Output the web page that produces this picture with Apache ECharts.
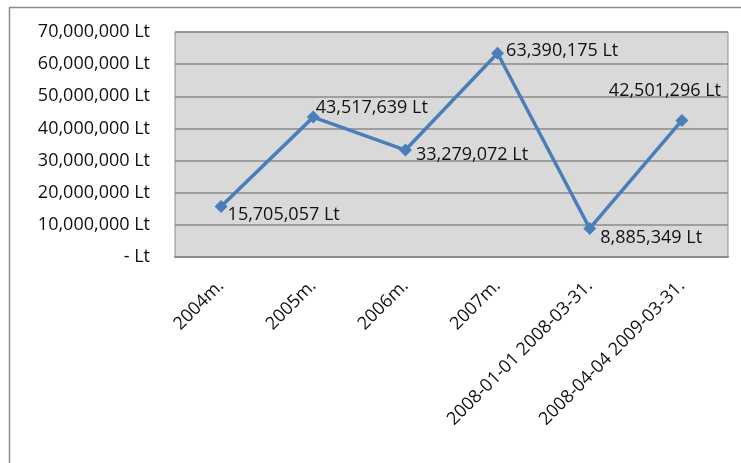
<!DOCTYPE html>
<html>
<head>
<meta charset="utf-8">
<script src="https://cdn.jsdelivr.net/npm/echarts@6/dist/echarts.min.js"></script>
<style>
  html, body { margin: 0; padding: 0; background: #fff; }
  #chart { width: 741px; height: 463px; }
</style>
</head>
<body>
<div id="chart"></div>
<script>
var periods = ["2004m.", "2005m.", "2006m.", "2007m.", "2008-01-01 2008-03-31.", "2008-04-04 2009-03-31."];
var amounts = [15705057, 43517639, 33279072, 63390175, 8885349, 42501296];
// where each value label sits relative to its point
var labelPlaces = ["right", "right", "right", "right", "right", "top"];
var labelShifts = [[-2, 8], [-6, -9], [2, 5], [0, -2], [2, 9], [-17, -12]];

var FONT = "Open Sans";
var FONT_SIZE = 18;

function fmtLt(v) {
  if (v === 0) return "- Lt";
  return v.toLocaleString("en-US") + " Lt";
}

var pointData = amounts.map(function (v, i) {
  return {
    value: v,
    label: {
      position: labelPlaces[i],
      offset: labelShifts[i]
    }
  };
});

var myChart = echarts.init(document.getElementById("chart"));
myChart.setOption({
  animation: false,
  graphic: [
    {
      type: "rect",
      shape: { x: 9.5, y: 7.5, width: 740, height: 470 },
      style: { fill: "none", stroke: "#8c8c8c", lineWidth: 1.5 },
      z: -10
    }
  ],
  grid: {
    left: 175,
    right: 13,
    top: 32,
    bottom: 206,
    show: true,
    backgroundColor: "#d9d9d9",
    borderColor: "#8c8c8c",
    borderWidth: 1
  },
  xAxis: {
    type: "category",
    data: periods,
    boundaryGap: true,
    axisLine: { show: true, lineStyle: { color: "#8c8c8c", width: 2 } },
    axisTick: { show: false },
    axisLabel: {
      rotate: 45,
      interval: 0,
      margin: 26,
      color: "#111",
      fontFamily: FONT,
      fontSize: FONT_SIZE
    }
  },
  yAxis: {
    type: "value",
    min: 0,
    max: 70000000,
    interval: 10000000,
    axisLine: { show: false },
    axisTick: { show: false },
    splitLine: { lineStyle: { color: "#8a8a8a", width: 1.5 } },
    axisLabel: {
      margin: 25,
      color: "#111",
      fontFamily: FONT,
      fontSize: FONT_SIZE,
      formatter: fmtLt
    }
  },
  series: [
    {
      type: "line",
      data: pointData,
      symbol: "diamond",
      symbolSize: 13,
      lineStyle: { color: "#4a7ebb", width: 3.5 },
      itemStyle: { color: "#4a7ebb" },
      label: {
        show: true,
        color: "#111",
        fontFamily: FONT,
        fontSize: FONT_SIZE,
        distance: 2,
        formatter: function (p) { return fmtLt(p.value); }
      }
    }
  ]
});
</script>
</body>
</html>
